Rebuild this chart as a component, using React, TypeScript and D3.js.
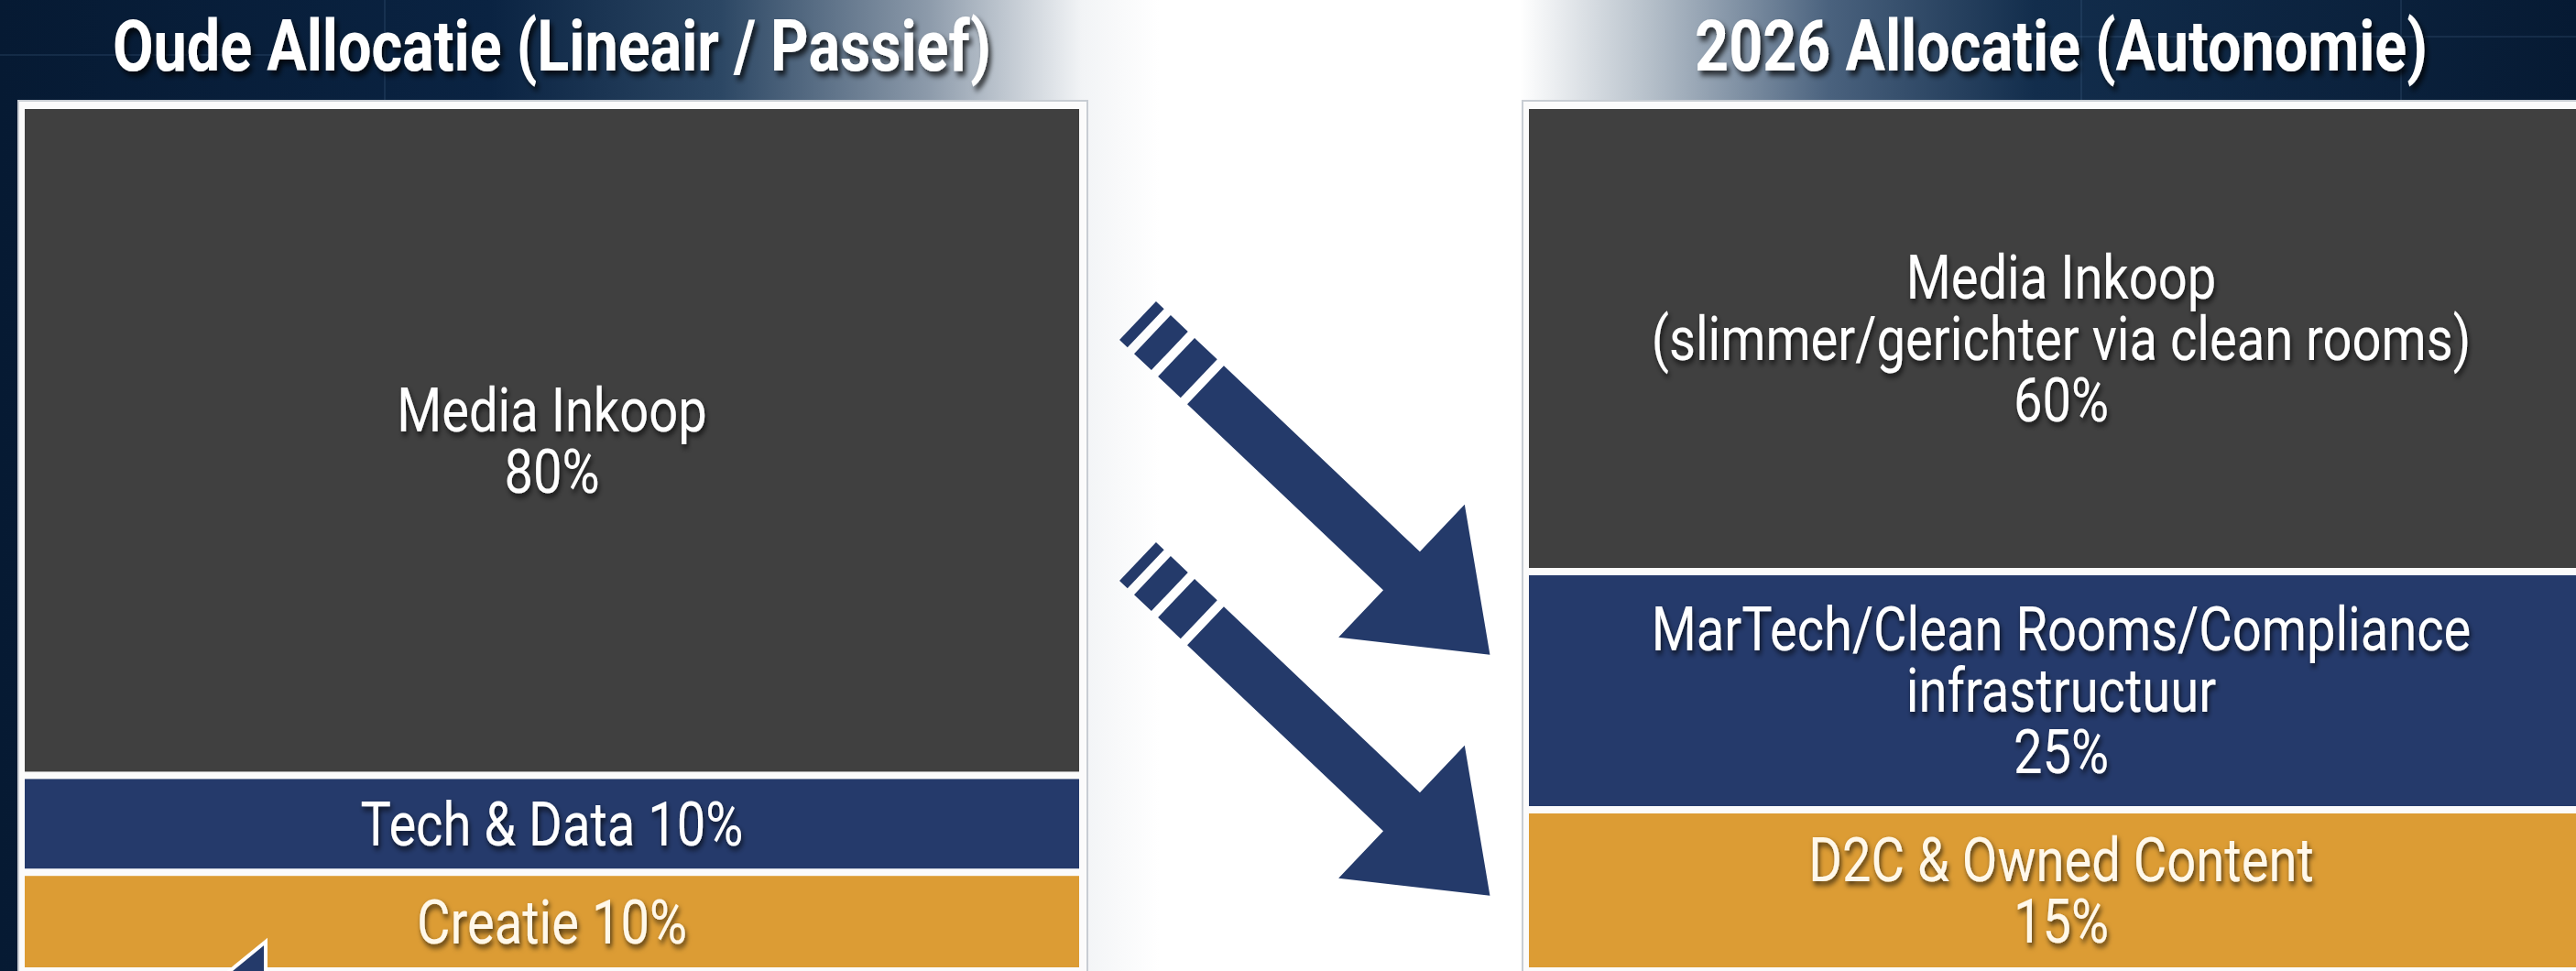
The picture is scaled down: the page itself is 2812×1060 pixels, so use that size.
import * as d3 from "d3";

const W = 2812, H = 1060;

// left = old allocation, right = 2026 allocation
const titles = ["Oude Allocatie (Lineair / Passief)", "2026 Allocatie (Autonomie)"];

const oldLabels = [["Media Inkoop"], ["Tech & Data"], ["Creatie"]];
const oldShares = [80, 10, 10];

const newLabels = [
  ["Media Inkoop", "(slimmer/gerichter via clean rooms)"],
  ["MarTech/Clean Rooms/Compliance", "infrastructuur"],
  ["D2C & Owned Content"],
];
const newShares = [60, 25, 15];

const blockColors = ["#404040", "#253a6b", "#dc9c34"];
const labelColors = ["#ffffff", "#ffffff", "#fff8ea"];

const NAVY = "#243a6a";
const FONT = "Roboto, 'Noto Sans', sans-serif";
const COND = 0.85; // the source font is condensed
const LABEL_SIZE = 66, LINE_H = 67, CAP = 0.711;
const GAP = 8;
const FRAME_TOP = 110, INNER_TOP = 119, INNER_BOTTOM = 1056;

const PANELS = [
  { x0: 20, x1: 1187, yMax: 1058, labels: oldLabels, shares: oldShares },
  { x0: 1662, x1: 2840, yMax: 1040, labels: newLabels, shares: newShares },
];

// arrow drawn in its own axis frame (u along, v across), then rotated
const ARROWS = [{ x: 1242, y: 350 }, { x: 1242, y: 613 }];
const ARROW_ANGLE = 43.5;
const STRIPS: [number, number][] = [[0, 12], [22, 48], [58, 92]];
const SHAFT_START = 102, HEAD_START = 397, TIP = 530, HALF_SHAFT = 29, HALF_HEAD = 100;

function Panel({ p, title }: { p: typeof PANELS[number]; title: string }) {
  const y = d3.scaleLinear([0, 100], [0, p.yMax]);
  const ends = Array.from(d3.cumsum(p.shares));
  const ix0 = p.x0 + 7, ix1 = p.x1 - 9;
  const cx = (ix0 + ix1) / 2;
  const n = p.shares.length;

  return (
    <g>
      <rect x={p.x0} y={FRAME_TOP} width={p.x1 - p.x0} height={H - FRAME_TOP + 20}
        fill="#fbfbfb" stroke="#c8cdd3" strokeWidth={2} />
      {p.shares.map((s, i) => {
        const top = i === 0 ? INNER_TOP : y(ends[i] - s) + GAP / 2;
        const bottom = i === n - 1 ? INNER_BOTTOM : y(ends[i]) - GAP / 2;
        const lines = bottom - top < 130
          ? [p.labels[i].join(" ") + ` ${s}%`]
          : [...p.labels[i], `${s}%`];
        const capH = LABEL_SIZE * CAP;
        const total = (lines.length - 1) * LINE_H + capH;
        const first = (top + bottom) / 2 - total / 2 + capH;
        return (
          <g key={i}>
            <rect x={ix0} y={top} width={ix1 - ix0} height={bottom - top} fill={blockColors[i]} />
            {lines.map((t, j) => (
              <text key={j} transform={`translate(${cx},${first + j * LINE_H}) scale(${COND},1)`}
                textAnchor="middle" fontFamily={FONT} fontSize={LABEL_SIZE}
                fill={labelColors[i]} filter="url(#lblShadow)">
                {t}
              </text>
            ))}
          </g>
        );
      })}
      <text transform={`translate(${cx},77) scale(0.84,1)`} textAnchor="middle"
        fontFamily={FONT} fontWeight={700} fontSize={77} fill="#ffffff" filter="url(#ttlShadow)">
        {title}
      </text>
    </g>
  );
}

function Arrow({ x, y }: { x: number; y: number }) {
  const body: [number, number][] = [
    [SHAFT_START, -HALF_SHAFT], [HEAD_START, -HALF_SHAFT], [HEAD_START, -HALF_HEAD],
    [TIP, 0], [HEAD_START, HALF_HEAD], [HEAD_START, HALF_SHAFT], [SHAFT_START, HALF_SHAFT],
  ];
  const line = d3.line();
  return (
    <g transform={`translate(${x},${y}) rotate(${ARROW_ANGLE})`} fill={NAVY}>
      {STRIPS.map(([a, b], i) => (
        <rect key={i} x={a} y={-HALF_SHAFT} width={b - a} height={HALF_SHAFT * 2} />
      ))}
      <path d={line(body) + "Z"} />
    </g>
  );
}

export default function App() {
  return (
    <svg width={W} height={H} style={{ position: "absolute", left: 0, top: 0, display: "block" }}>
      <defs>
        <linearGradient id="bg" gradientUnits="userSpaceOnUse" x1={0} y1={0} x2={W} y2={0}>
          <stop offset={0} stopColor="#061a33" />
          <stop offset={0.19} stopColor="#0a2342" />
          <stop offset={0.28} stopColor="#2c4764" />
          <stop offset={0.36} stopColor="#8c9aaa" />
          <stop offset={0.42} stopColor="#f2f4f6" />
          <stop offset={0.45} stopColor="#ffffff" />
          <stop offset={0.59} stopColor="#ffffff" />
          <stop offset={0.64} stopColor="#b6c0ca" />
          <stop offset={0.71} stopColor="#4a627e" />
          <stop offset={0.79} stopColor="#122d4c" />
          <stop offset={1} stopColor="#061a33" />
        </linearGradient>
        <filter id="ttlShadow" x="-10%" y="-30%" width="120%" height="170%">
          <feDropShadow dx={4} dy={5} stdDeviation={3} floodColor="#000" floodOpacity={0.75} />
        </filter>
        <filter id="lblShadow" x="-10%" y="-30%" width="120%" height="170%">
          <feDropShadow dx={2} dy={4} stdDeviation={3} floodColor="#000" floodOpacity={0.7} />
        </filter>
      </defs>

      <rect width={W} height={H} fill="url(#bg)" />
      {/* faint tech grid in the header */}
      <g stroke="#5b7aa0" strokeOpacity={0.18} strokeWidth={2}>
        <line x1={2180} y1={40} x2={W} y2={40} />
        <line x1={2272} y1={0} x2={2272} y2={FRAME_TOP} />
        <line x1={2621} y1={0} x2={2621} y2={FRAME_TOP} />
        <line x1={0} y1={60} x2={320} y2={60} />
        <line x1={420} y1={0} x2={420} y2={FRAME_TOP} />
      </g>

      {PANELS.map((p, i) => <Panel key={i} p={p} title={titles[i]} />)}

      {ARROWS.map((a, i) => <Arrow key={i} x={a.x} y={a.y} />)}

      {/* tip of a navy arrowhead peeking into the bottom-left block */}
      <path d="M290,1028 L246,1064 L290,1064 Z" fill={NAVY} stroke="#ffffff" strokeWidth={4} />
    </svg>
  );
}
